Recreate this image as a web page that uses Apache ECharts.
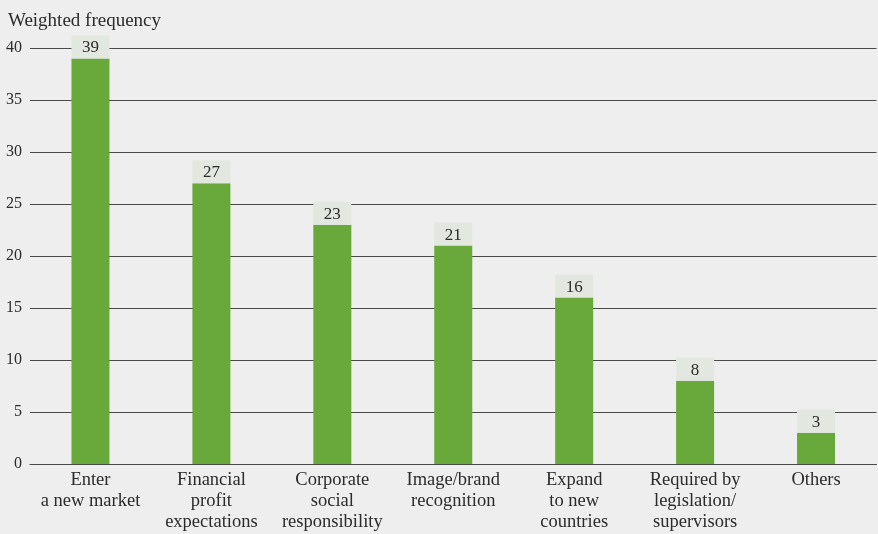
<!DOCTYPE html>
<html>
<head>
<meta charset="utf-8">
<script src="https://cdn.jsdelivr.net/npm/echarts@6/dist/echarts.min.js"></script>
<style>
  html, body { margin: 0; padding: 0; background: #eeeeee; }
  #chart { width: 878px; height: 534px; }
</style>
</head>
<body>
<div id="chart"></div>
<script>
// Motives, weighted frequency of answers
const categories = [
  'Enter\na new market',
  'Financial\nprofit\nexpectations',
  'Corporate\nsocial\nresponsibility',
  'Image/brand\nrecognition',
  'Expand\nto new\ncountries',
  'Required by\nlegislation/\nsupervisors',
  'Others'
];
const values = [39, 27, 23, 21, 16, 8, 3];
const yTicks = [0, 5, 10, 15, 20, 25, 30, 35, 40];

const serif = '"Liberation Serif", "DejaVu Serif", serif';
const textColor = '#2b2b2b';

const chart = echarts.init(document.getElementById('chart'), null, { renderer: 'canvas' });
chart.setOption({
  backgroundColor: '#eeeeee',
  animation: false,
  title: {
    text: 'Weighted frequency',
    left: 3,
    top: 7,
    textStyle: { fontFamily: serif, fontSize: 19, fontWeight: 'normal', color: textColor }
  },
  grid: { left: 30, right: 1.5, top: 48, bottom: 70, containLabel: false },
  xAxis: {
    type: 'category',
    data: categories,
    axisLine: { show: true, lineStyle: { color: '#4a4a4a', width: 1.2 } },
    axisTick: { show: false },
    axisLabel: {
      fontFamily: serif, fontSize: 18.5, color: textColor,
      lineHeight: 21, margin: 6, interval: 0
    }
  },
  yAxis: {
    type: 'value',
    min: yTicks[0],
    max: yTicks[yTicks.length - 1],
    interval: 5,
    axisLine: { show: false },
    axisTick: { show: false },
    splitLine: { lineStyle: { color: '#4a4a4a', width: 1.2 } },
    axisLabel: { fontFamily: serif, fontSize: 16, color: textColor, margin: 8 }
  },
  series: [{
    type: 'bar',
    data: values,
    barWidth: 38,
    itemStyle: { color: '#69a83a' },
    label: {
      show: true,
      position: 'top',
      distance: 0,
      fontFamily: serif,
      fontSize: 17,
      color: textColor,
      backgroundColor: '#e2e8df',
      width: 38,
      align: 'center',
      lineHeight: 17,
      padding: [4, 0, 2, 0]
    }
  }]
});
</script>
</body>
</html>
